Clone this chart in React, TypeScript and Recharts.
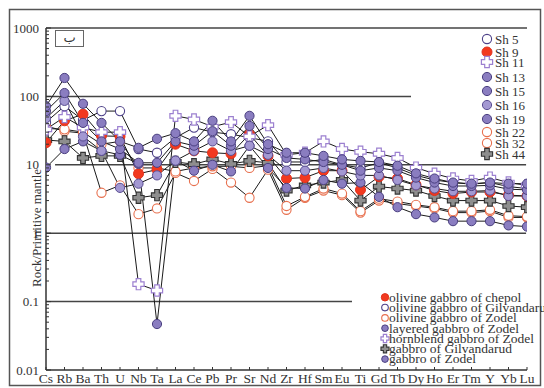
import React from "react";
import { LineChart, Line, XAxis, YAxis, ReferenceLine } from "recharts";

const elements = ["Cs","Rb","Ba","Th","U","Nb","Ta","La","Ce","Pb","Pr","Sr","Nd","Zr","Hf","Sm","Eu","Ti","Gd","Tb","Dy","Ho","Er","Tm","Y","Yb","Lu"];

const sh5 = [42, 72, 45, 61, 61, 17, 15, 25, 35, 30, 28, 25, 22, 11, 11, 12, 10, 9, 10.7, 9, 7, 6, 5.5, 5.2, 5.5, 4.8, 4.5];
const sh9 = [21, 44, 55, 26.5, 26, 7.4, 8.5, 20, 16, 15, 14.5, 28, 13.5, 6.3, 6.5, 8.2, 8.2, 4.3, 6.7, 6.3, 5.1, 4.2, 3.8, 4.0, 4.0, 3.6, 3.5];
const sh11 = [33, 50, 35, 30, 30, 0.18, 0.145, 52, 46, 36, 42, 26, 38, 14, 15, 22, 17, 15.5, 14.5, 12.6, 9.1, 7.4, 6.3, 5.8, 6.5, 5.5, 5.0];
const sh13 = [72, 186, 78, 41, 22, 17.7, 24, 29, 22, 44, 22, 52, 20, 15, 15, 13.5, 12, 11.4, 11, 9.7, 7.5, 6.3, 5.5, 5.3, 5.5, 5.3, 5.3];
const sh15 = [61, 112, 41, 22, 17, 10.7, 10.7, 22, 19, 31, 19, 37, 17, 12.6, 12, 11, 10, 8.2, 9, 8.2, 6.5, 5.5, 4.9, 4.9, 5, 4.4, 4.3];
const sh16 = [48, 86, 26, 16, 4.6, 5.3, 7, 11.5, 16, 22, 16, 19, 14, 8.2, 8.2, 9, 8, 7, 7, 6, 5, 4.5, 4.1, 4.1, 4.2, 3.5, 3.5];
const sh19 = [9.1, 17, 22, 16, 14, 10.3, 0.047, 11.5, 8.2, 10, 8, 19, 9, 4.6, 4.5, 6, 5.3, 5.5, 3.4, 2.4, 1.9, 1.7, 1.5, 1.5, 1.5, 1.3, 1.25];
const sh22 = [37, 31, 29, 3.9, 5, 1.9, 2.3, 7.6, 5.8, 8.7, 5.5, 3.3, 8.5, 2.2, 3.3, 4.2, 3.6, 2.0, 3.0, 2.7, 2.5, 2.3, 2.0, 2.0, 2.1, 1.7, 1.7];
const sh32 = [34, 33, 30, 20, 22, 9, 9, 8.0, 9, 9.5, 9.5, 9, 9.7, 2.5, 3.4, 4.5, 3.8, 2.1, 3.2, 2.9, 2.6, 2.4, 2.1, 2.1, 2.2, 1.8, 1.75];
const sh44 = [23, 22, 12.6, 13.5, 13.5, 3.3, 3.6, 11, 10.2, 12, 10.3, 11.4, 10.7, 4.2, 5, 5.5, 6, 3.0, 4.8, 4.5, 4.2, 3.5, 3.0, 3.0, 3.0, 2.5, 2.4];

const yMajorTicks = [0.01, 0.1, 1, 10, 100, 1000];
const yMajorLabels = ["0.01", "0.1", "1", "10", "100", "1000"];

const groupLabels = [
  "olivine gabbro of chepol",
  "olivine gabbro of Gilvandarud",
  "olivine gabbro of Zodel",
  "layered gabbro of Zodel",
  "hornblend gabbro of Zodel",
  "gabbro of Gilvandarud",
  "gabbro of Zodel",
];
const groupKinds = ["red", "openPurple", "openRed", "purple", "openCross", "grayCross", "purple"];

const panelLabel = "ب";
const yAxisTitle = "Rock/Primitive mantle";

type S = { key: string; name: string; values: number[]; kind: string };
const series: S[] = [
  { key: "sh22", name: "Sh 22", values: sh22, kind: "openRed" },
  { key: "sh32", name: "Sh 32", values: sh32, kind: "openRed" },
  { key: "sh44", name: "Sh 44", values: sh44, kind: "grayCross" },
  { key: "sh5", name: "Sh 5", values: sh5, kind: "openPurple" },
  { key: "sh9", name: "Sh 9", values: sh9, kind: "red" },
  { key: "sh11", name: "Sh 11", values: sh11, kind: "openCross" },
  { key: "sh19", name: "Sh 19", values: sh19, kind: "purple" },
  { key: "sh16", name: "Sh 16", values: sh16, kind: "purpleLight" },
  { key: "sh15", name: "Sh 15", values: sh15, kind: "purple" },
  { key: "sh13", name: "Sh 13", values: sh13, kind: "purple" },
];
const legendOrder = ["sh5", "sh9", "sh11", "sh13", "sh15", "sh16", "sh19", "sh22", "sh32", "sh44"];

const data = elements.map((el, i) => {
  const row: any = { i, el };
  series.forEach((s) => (row[s.key] = s.values[i]));
  return row;
});

const yAllTicks: number[] = [];
for (let e = -2; e < 3; e++) for (let m = 1; m < 10; m++) yAllTicks.push(Number((m * Math.pow(10, e)).toPrecision(3)));
yAllTicks.push(1000);

const FONT = '"Liberation Serif", "DejaVu Serif", serif';

function plusPath(cx: number, cy: number, a: number, w: number) {
  return `M${cx - w},${cy - a}H${cx + w}V${cy - w}H${cx + a}V${cy + w}H${cx + w}V${cy + a}H${cx - w}V${cy + w}H${cx - a}V${cy - w}H${cx - w}Z`;
}

function Marker({ kind, cx, cy, scale = 1 }: { kind: string; cx: number; cy: number; scale?: number }) {
  if (cx == null || cy == null || isNaN(cx) || isNaN(cy)) return null;
  const r = 4.6 * scale;
  switch (kind) {
    case "red":
      return <circle cx={cx} cy={cy} r={r + 0.4} fill="#F2391F" stroke="#E2321C" strokeWidth={1} />;
    case "openPurple":
      return <circle cx={cx} cy={cy} r={r} fill="#FFFFFF" stroke="#4E4289" strokeWidth={1.1} />;
    case "openRed":
      return <circle cx={cx} cy={cy} r={r} fill="#FFFFFF" stroke="#E8704E" strokeWidth={1.1} />;
    case "purpleLight":
      return <circle cx={cx} cy={cy} r={r} fill="#A398D2" stroke="#5A4E92" strokeWidth={1} />;
    case "purple":
      return <circle cx={cx} cy={cy} r={r} fill="#8A7DC0" stroke="#4A3F80" strokeWidth={1} />;
    case "openCross":
      return <path d={plusPath(cx, cy, 5.6 * scale, 2.3 * scale)} fill="#FFFFFF" stroke="#9C80D0" strokeWidth={1.2} />;
    case "grayCross":
      return <path d={plusPath(cx, cy, 5.6 * scale, 2.3 * scale)} fill="#8E8E8E" stroke="#333333" strokeWidth={1.1} />;
    default:
      return null;
  }
}

const YTick = (props: any) => {
  const { x, y, payload } = props;
  const v = payload.value;
  const idx = yMajorTicks.findIndex((t) => Math.abs(Math.log10(t) - Math.log10(v)) < 1e-6);
  const major = idx >= 0;
  return (
    <g>
      <line x1={x} x2={x + (major ? 5 : 3)} y1={y} y2={y} stroke="#333" strokeWidth={1} />
      {major && (
        <text x={x - 7} y={y} dy={4.5} textAnchor="end" fontSize={13} fill="#333" fontFamily={FONT}>
          {yMajorLabels[idx]}
        </text>
      )}
    </g>
  );
};

const XTick = (props: any) => {
  const { x, y, payload } = props;
  return (
    <g>
      <line x1={x} x2={x} y1={y} y2={y - 3} stroke="#333" strokeWidth={1} />
      <text x={x} y={y + 13} textAnchor="middle" fontSize={13.5} fill="#333" fontFamily={FONT}>
        {elements[payload.value]}
      </text>
    </g>
  );
};

const gridSpans = [
  { y: 1000, x1: 0, x2: 26 },
  { y: 100, x1: 0, x2: 19.73 },
  { y: 10, x1: 0.49, x2: 25.95 },
  { y: 1, x1: 0, x2: 25.95 },
  { y: 0.1, x1: 0, x2: 16.54 },
];

const legendY = [39, 52, 62, 77, 91, 105, 119, 132, 143, 154];
const groupY0 = 297.3;
const groupStep = 10.3;

export default function App() {
  const byKey: Record<string, S> = {};
  series.forEach((s) => (byKey[s.key] = s));
  return (
    <div style={{ position: "absolute", left: 0, top: 0, width: 544, height: 388, background: "#fff" }}>
      <LineChart
        width={544}
        height={388}
        data={data}
        margin={{ top: 28, right: 17, bottom: 0, left: 0 }}
        style={{ position: "absolute", left: 0, top: 0 }}
      >
        <XAxis
          type="number"
          dataKey="i"
          domain={[0, 26]}
          ticks={elements.map((_, i) => i)}
          interval={0}
          tickSize={0}
          tickMargin={0}
          tick={(p: any) => <XTick {...p} />}
          axisLine={{ stroke: "#333", strokeWidth: 1.5 }}
          height={18}
          allowDataOverflow
        />
        <YAxis
          type="number"
          scale="log"
          domain={[0.01, 1000]}
          ticks={yAllTicks}
          interval={0}
          tickSize={0}
          tickMargin={0}
          tick={(p: any) => <YTick {...p} />}
          axisLine={{ stroke: "#333", strokeWidth: 1.5 }}
          width={46}
          allowDataOverflow
        />
        {gridSpans.map((g, k) => (
          <ReferenceLine
            key={`g${k}`}
            segment={[{ x: g.x1, y: g.y }, { x: g.x2, y: g.y }]}
            stroke="#444"
            strokeWidth={1.5}
          />
        ))}
        {series.map((s) => (
          <Line
            key={s.key}
            dataKey={s.key}
            name={s.name}
            stroke="#1a1a1a"
            strokeWidth={1}
            isAnimationActive={false}
            activeDot={false}
            dot={(p: any) => <Marker key={`${s.key}-${p.index}`} kind={s.kind} cx={p.cx} cy={p.cy} />}
          />
        ))}
      </LineChart>
      <svg
        width={544}
        height={388}
        style={{ position: "absolute", left: 0, top: 0, pointerEvents: "none" }}
      >
        <rect x={9.5} y={9.5} width={531} height={376} fill="none" stroke="#555" strokeWidth={1.5} />
        <rect x={55.5} y={30.5} width={28} height={16} fill="#fff" stroke="#666" strokeWidth={1} />
        <text x={69.5} y={42} textAnchor="middle" fontSize={13} fill="#333" fontFamily='"DejaVu Sans", sans-serif'>
          {panelLabel}
        </text>
        <text
          x={0}
          y={0}
          transform="translate(36,228) rotate(-90)"
          textAnchor="middle"
          dy={4.5}
          fontSize={13}
          fill="#333"
          fontFamily={FONT}
        >
          {yAxisTitle}
        </text>
        {legendOrder.map((k, idx) => {
          const s = byKey[k];
          return (
            <g key={`lg${k}`}>
              <Marker kind={s.kind} cx={487} cy={legendY[idx]} />
              <text x={495} y={legendY[idx]} dy={4.5} fontSize={13} fill="#333" fontFamily={FONT}>
                {s.name}
              </text>
            </g>
          );
        })}
        {groupLabels.map((lab, idx) => (
          <g key={`gl${idx}`}>
            <Marker kind={groupKinds[idx]} cx={385} cy={groupY0 + idx * groupStep} scale={0.72} />
            <text x={389} y={groupY0 + idx * groupStep} dy={4.3} fontSize={13.5} fill="#333" fontFamily={FONT}>
              {lab}
            </text>
          </g>
        ))}
      </svg>
    </div>
  );
}
